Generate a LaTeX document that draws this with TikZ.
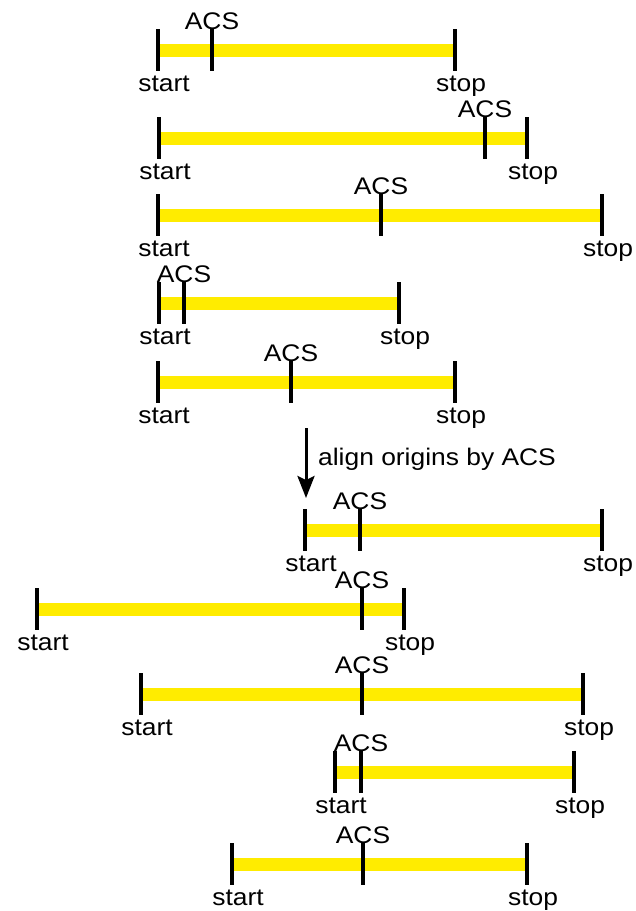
\documentclass[tikz,border=0pt]{standalone}
\usepackage{fontspec}
\setmainfont{Liberation Sans}[FakeStretch=1.1]
\usetikzlibrary{arrows.meta}
\definecolor{baryellow}{RGB}{255,236,0}

\begin{document}
\begin{tikzpicture}[
  x=1pt, y=-1pt,
  bar/.style={draw=baryellow, line width=13pt},
  tickmark/.style={draw=black, line width=3.5pt},
  lbl/.style={inner sep=0pt, font=\fontsize{24}{28}\selectfont},
  alignarrow/.style={-{Stealth[length=22pt, width=17pt, inset=4pt]}, line width=3pt}
]
  \useasboundingbox (0,0) rectangle (636,911);

  % row / bar height / start / ACS / stop
  \foreach \i/\y/\xs/\xa/\xe in {1/50/158/212/455, 2/138/159/485/527, 3/215/158/381/602,
      4/303/159/184/399, 5/382/158/291/455, 6/530/305/360/602, 7/609/37/362/404,
      8/694/141/362/583, 9/772/335/361/574, 10/864/232/363/527} {
    \coordinate (s\i) at (\xs,\y);
    \coordinate (a\i) at (\xa,\y);
    \coordinate (e\i) at (\xe,\y);
    \draw[bar] (s\i) -- (e\i);
    \foreach \p in {s,a,e}
      \draw[tickmark] (\p\i) ++(0,-21) -- ++(0,42);
    \node[lbl, anchor=base] (acs\i) at (\xa,\y-21) {ACS};
    \node[lbl, anchor=north] (start\i) at (\xs+6,\y+26) {start};
    \node[lbl, anchor=north] (stop\i) at (\xe+6,\y+26) {stop};
  }

  \coordinate (alignfrom) at (306,428);
  \coordinate (alignto) at (306,498);
  \draw[alignarrow] (alignfrom) -- (alignto);
  \node[lbl, anchor=base west] (aligntext) at (318,465) {align origins by ACS};
\end{tikzpicture}
\end{document}
